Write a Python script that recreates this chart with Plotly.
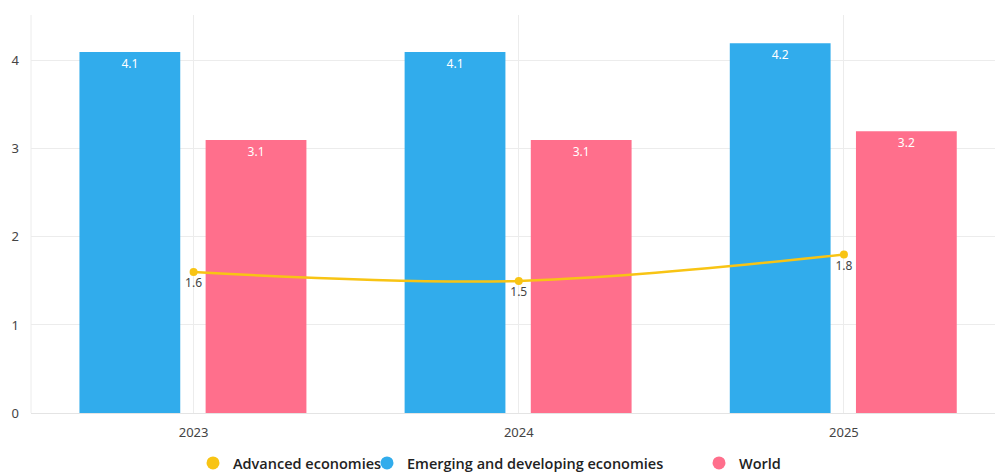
import plotly.graph_objects as go

years = ["2023", "2024", "2025"]
advanced = [1.6, 1.5, 1.8]
emerging = [4.1, 4.1, 4.2]
world = [3.1, 3.1, 3.2]

c_adv = "#F8C414"
c_emg = "#31ACEC"
c_wld = "#FF6F8C"

fig = go.Figure()

fig.add_trace(go.Bar(
    x=years, y=emerging, name="Emerging and developing economies",
    marker=dict(color=c_emg, line=dict(width=0)),
    width=0.31, offset=-0.351,
    text=[f"{v:.1f}" for v in emerging], textposition="inside",
    insidetextanchor="end", textangle=0,
    textfont=dict(color="white", size=12, family="Noto Sans"),
    showlegend=False, hoverinfo="skip",
))
fig.add_trace(go.Bar(
    x=years, y=world, name="World",
    marker=dict(color=c_wld, line=dict(width=0)),
    width=0.31, offset=0.037,
    text=[f"{v:.1f}" for v in world], textposition="inside",
    insidetextanchor="end", textangle=0,
    textfont=dict(color="white", size=12, family="Noto Sans"),
    showlegend=False, hoverinfo="skip",
))
fig.add_trace(go.Scatter(
    x=years, y=advanced, name="Advanced economies",
    mode="lines+markers+text", line=dict(color=c_adv, width=2.5, shape="spline"),
    marker=dict(color=c_adv, size=8),
    text=[f"{v:.1f}" for v in advanced], textposition="bottom center",
    textfont=dict(color="#444", size=12, family="Noto Sans"),
    showlegend=False, hoverinfo="skip",
))

# legend entries with round markers, one legend per entry for spacing
for name, col, leg in [("Advanced economies", c_adv, "legend"),
                       ("Emerging and developing economies", c_emg, "legend2"),
                       ("World", c_wld, "legend3")]:
    fig.add_trace(go.Scatter(
        x=[None], y=[None], mode="markers", name=name,
        marker=dict(color=col, size=13, symbol="circle"),
        showlegend=True, legend=leg,
    ))

legend_font = dict(family="Open Sans", size=14.5, color="#222", weight=600)
common = dict(orientation="h", yref="container", yanchor="middle",
              y=1 - 463 / 474, xref="container", xanchor="left",
              font=legend_font, bgcolor="rgba(0,0,0,0)", itemwidth=30,
              tracegroupgap=0)

fig.update_layout(
    width=995, height=474,
    margin=dict(l=31, r=0, t=15, b=61),
    paper_bgcolor="white", plot_bgcolor="white",
    barmode="overlay",
    xaxis=dict(
        type="category", range=[-0.5, 2.4646],
        showgrid=True, gridcolor="#ECECEC", gridwidth=1,
        tickfont=dict(family="Noto Sans", size=13, color="#444"),
        ticks="", showline=False, zeroline=False, ticklabelstandoff=10,
    ),
    yaxis=dict(
        range=[0, 4.52], tickvals=[0, 1, 2, 3, 4],
        showgrid=True, gridcolor="#ECECEC", gridwidth=1,
        zeroline=True, zerolinecolor="#E4E4E4", zerolinewidth=1,
        tickfont=dict(family="Noto Sans", size=13, color="#444"),
        ticks="", showline=False, ticklabelstandoff=11,
    ),
    legend=dict(x=193 / 995, **common),
    legend2=dict(x=367 / 995, **common),
    legend3=dict(x=699 / 995, **common),
    showlegend=True,
)

# left edge grid line of the plot area
fig.add_shape(type="line", xref="paper", yref="paper", x0=0, x1=0, y0=0, y1=1,
              line=dict(color="#ECECEC", width=1), layer="below")

fig.write_html("out.html")
